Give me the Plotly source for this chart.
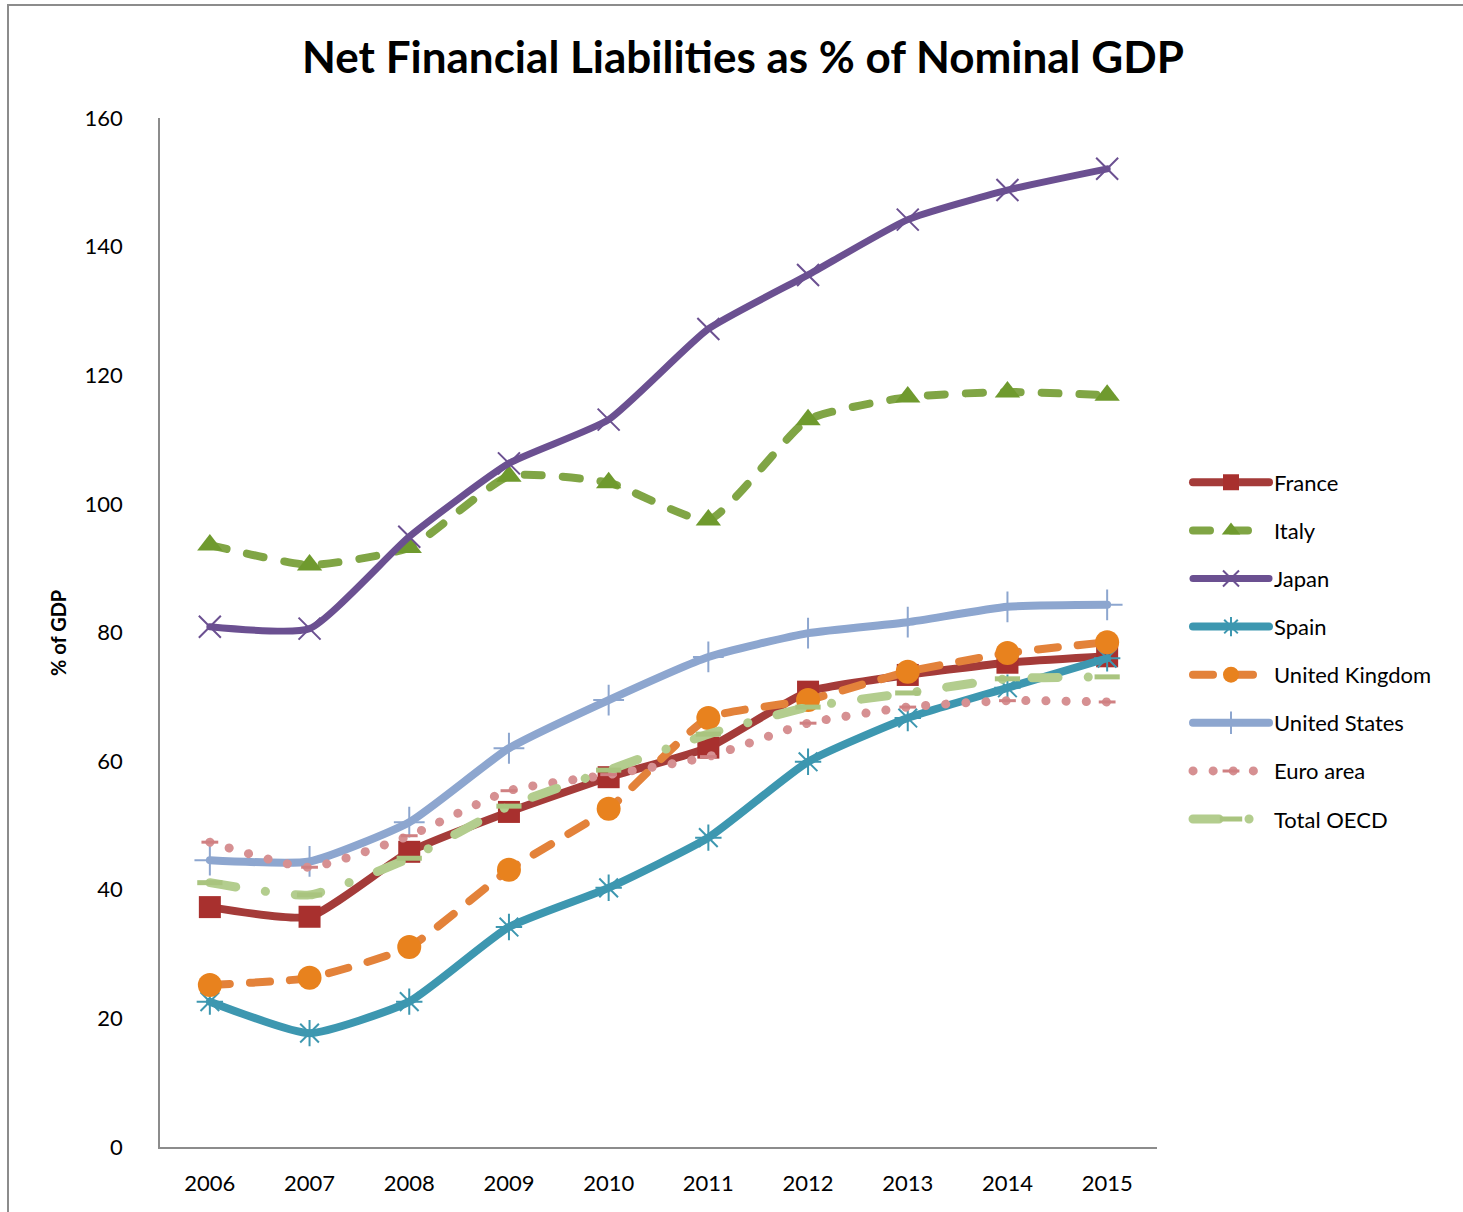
import plotly.graph_objects as go

# ---- data (% of nominal GDP) ----
years = [2006, 2007, 2008, 2009, 2010, 2011, 2012, 2013, 2014, 2015]

france = [37.3, 35.8, 45.9, 52.1, 57.5, 62.1, 70.8, 73.4, 75.3, 76.3]
italy = [93.6, 90.5, 93.2, 104.3, 103.3, 97.5, 113.1, 116.6, 117.4, 116.9]
japan = [80.9, 80.6, 94.9, 106.3, 113.1, 127.2, 135.6, 144.2, 148.8, 152.1]
spain = [22.6, 17.7, 22.6, 34.2, 40.3, 48.1, 59.9, 66.7, 71.4, 76.0]
united_kingdom = [25.2, 26.3, 31.1, 43.1, 52.6, 66.7, 69.5, 73.9, 76.8, 78.5]
united_states = [44.6, 44.4, 50.5, 62.0, 69.5, 76.2, 79.9, 81.6, 84.0, 84.3]
euro_area = [47.4, 43.5, 48.4, 55.4, 57.9, 60.7, 65.9, 68.4, 69.4, 69.2]
total_oecd = [41.1, 39.2, 44.9, 53.0, 58.6, 64.2, 68.4, 70.6, 72.8, 73.1]

y_ticks = [0, 20, 40, 60, 80, 100, 120, 140, 160]

FONT = "Lato"

# name, values, line colour, width, dash, marker symbol, marker size, marker colour, marker line width
series = [
    ("France", france, "#A43B39", 8, "solid", "square", 22, "#A8302E", 0),
    ("Italy", italy, "#80A545", 8, "17px,21px", "triangle-up", 22, "#6F9A2E", 0),
    ("Japan", japan, "#6B5091", 7, "solid", "x-thin-open", 22, "#6B5091", 2),
    ("Spain", spain, "#3D97B0", 8, "solid", "asterisk-open", 22, "#3D97B0", 2),
    ("United Kingdom", united_kingdom, "#E3823A", 8, "20px,20px", "circle", 24, "#E8821E", 0),
    ("United States", united_states, "#8DA6CF", 8, "solid", "cross-thin-open", 22, "#8DA6CF", 2),
    ("Euro area", euro_area, "#D69092", 9, "0.1px,20px", "line-ew-open", 12, "#D08082", 3),
    ("Total OECD", total_oecd, "#B3CD8E", 9, "26px,30px,0.1px,30px", "line-ew-open", 18, "#A9C47F", 5),
]

fig = go.Figure()
for name, vals, lc, lw, dash, sym, msize, mc, mlw in series:
    marker = dict(symbol=sym, size=msize, color=mc)
    if sym.endswith("open"):
        marker["line"] = dict(color=mc, width=mlw)
    else:
        marker["line"] = dict(width=0)
    fig.add_trace(go.Scatter(
        x=years, y=vals, name=name, mode="lines+markers",
        line=dict(color=lc, width=lw, dash=dash, shape="spline", smoothing=0.5),
        marker=marker,
        legendgroup=name,
    ))

W, H = 1463, 1212
L, R, T, B = 160, 306, 118, 65
pw, ph = W - L - R, H - T - B


def px_x(px):
    return (px - L) / pw


def px_y(py):
    return (H - B - py) / ph


fig.update_layout(
    width=W, height=H, autosize=False,
    margin=dict(l=L, r=R, t=T, b=B),
    paper_bgcolor="white", plot_bgcolor="white",
    font=dict(family=FONT, size=22, color="black"),
    title=dict(
        text="<b>Net Financial Liabilities as % of Nominal GDP</b>",
        x=743 / W, xanchor="center", xref="container",
        y=1 - 58 / H, yanchor="middle", yref="container",
        font=dict(family=FONT, size=44, color="black"),
    ),
    xaxis=dict(
        range=[2005.5, 2015.5], tickmode="array", tickvals=years,
        ticktext=[str(y) for y in years],
        showgrid=False, zeroline=False, showline=True,
        linecolor="#8C8C8C", linewidth=1.5, ticks="",
        ticklabelstandoff=16,
        tickfont=dict(family=FONT, size=22, color="black"),
    ),
    yaxis=dict(
        range=[0, 160], tickmode="array", tickvals=y_ticks,
        showgrid=False, zeroline=False, showline=True,
        linecolor="#8C8C8C", linewidth=1.5, ticks="",
        ticklabelstandoff=31,
        tickfont=dict(family=FONT, size=22, color="black"),
    ),
    legend=dict(
        x=px_x(1188), xanchor="left", y=px_y(651), yanchor="middle",
        font=dict(family=FONT, size=22, color="black"),
        itemwidth=76, tracegroupgap=16.5, traceorder="grouped",
        bgcolor="rgba(0,0,0,0)",
    ),
    showlegend=True,
)

# vertical axis title
fig.add_annotation(
    text="<b>% of GDP</b>", textangle=-90,
    x=px_x(58), y=px_y(633), xref="paper", yref="paper",
    xanchor="center", yanchor="middle", showarrow=False,
    font=dict(family=FONT, size=20, color="black"),
)

# chart frame
fig.add_shape(
    type="rect", xref="paper", yref="paper",
    x0=px_x(8), x1=px_x(1475), y0=px_y(1225), y1=px_y(5),
    line=dict(color="#8C8C8C", width=2), fillcolor="rgba(0,0,0,0)",
    layer="below",
)

round_caps = (
    "var gd=document.getElementById('{plot_id}');"
    "function rc(){gd.querySelectorAll('path.js-line').forEach(function(p){"
    "p.style.strokeLinecap='round';p.style.strokeLinejoin='round';});}"
    "rc();gd.on('plotly_afterplot',rc);"
)

fig.write_html("out.html", post_script=round_caps)
